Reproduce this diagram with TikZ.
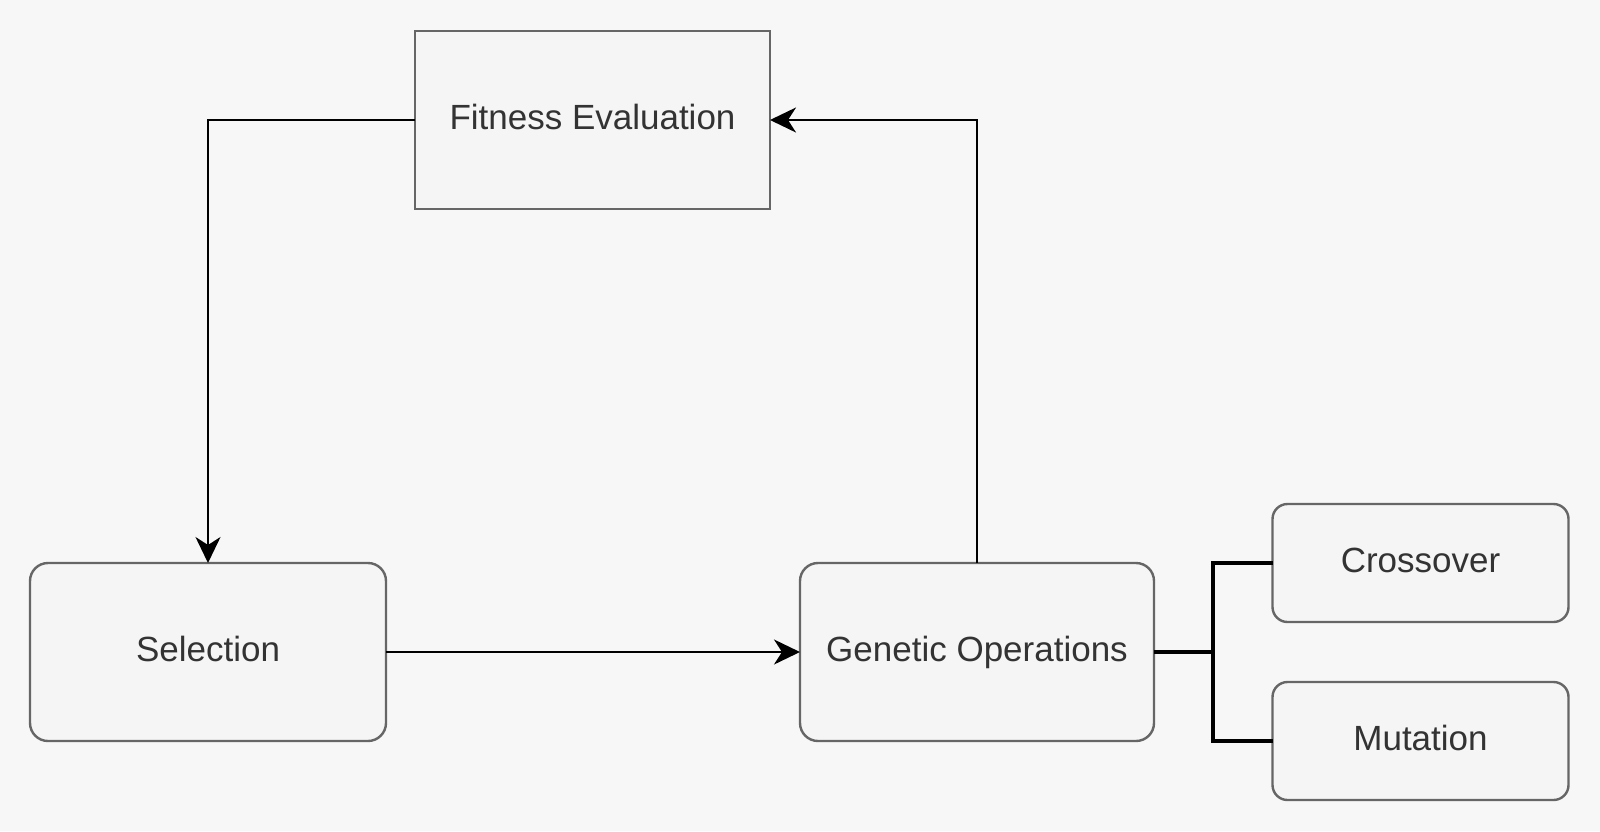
\documentclass[tikz,border=0pt]{standalone}
\usepackage{fontspec}
\setmainfont{Liberation Sans}
\usetikzlibrary{arrows.meta}
\definecolor{bg}{HTML}{F7F7F7}
\definecolor{boxfill}{HTML}{F5F5F5}
\definecolor{boxline}{HTML}{666666}
\definecolor{txt}{HTML}{333333}
\begin{document}
\begin{tikzpicture}[x=0.5pt,y=-0.5pt,
  box/.style={draw=boxline, fill=boxfill, line width=1.2pt, text=txt,
    font=\fontsize{17.5pt}{21pt}\selectfont, inner sep=0pt, outer sep=0pt,
    text height=13pt, text depth=3.6pt},
  rbox/.style={box, rounded corners=9pt},
  conn/.style={draw=black, line width=1.1pt},
  arr/.style={conn, -{Stealth[length=13pt,width=12.5pt,inset=4pt]}},
  thickconn/.style={draw=black, line width=2.2pt}]
\fill[bg] (0,0) rectangle (1600,831);
\useasboundingbox (0,0) rectangle (1600,831);
\node[box, minimum width=177.5pt, minimum height=89pt] (fit) at (592.5,120) {Fitness Evaluation};
\node[rbox, minimum width=178pt, minimum height=89pt] (sel) at (208,652) {Selection};
\node[rbox, minimum width=177pt, minimum height=89pt] (gen) at (977,652) {Genetic Operations};
\node[rbox, minimum width=148pt, minimum height=59pt, rounded corners=7.5pt] (cro) at (1420.5,563) {Crossover};
\node[rbox, minimum width=148pt, minimum height=59pt, rounded corners=7.5pt] (mut) at (1420.5,741) {Mutation};
\draw[arr] (fit.west) -| (sel.north);
\draw[arr] (sel.east) -- (gen.west);
\draw[arr] (gen.north) |- (fit.east);
\coordinate (br) at (1213,652);
\draw[thickconn] (gen.east) -- (br);
\draw[thickconn] (cro.west) -| (br) |- (mut.west);
\end{tikzpicture}
\end{document}
